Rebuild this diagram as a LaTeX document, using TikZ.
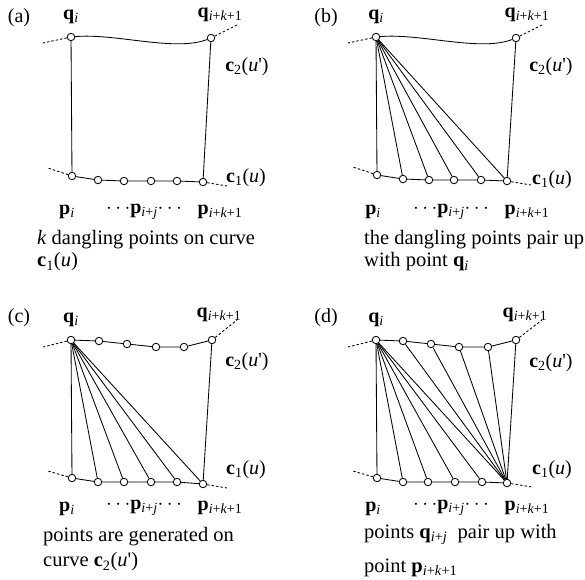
\documentclass[tikz,border=0pt]{standalone}
\usepackage{fontspec}
\setmainfont{Liberation Serif}
\newcommand{\sbs}[1]{\textsubscript{#1}}
\newcommand{\bq}{\textbf{q}}
\newcommand{\bp}{\textbf{p}}
\newcommand{\bc}{\textbf{c}}
\newcommand{\prm}{\textquotesingle}
\begin{document}
\begin{tikzpicture}[x=1pt,y=-1pt,
  pt/.style={circle,draw,fill=white,inner sep=0pt,minimum size=7.5pt,line width=0.85pt},
  edge/.style={line width=0.85pt},
  ext/.style={dash pattern=on 2.5pt off 2pt,line width=0.85pt},
  lab/.style={font=\fontsize{20}{24}\selectfont,inner sep=0pt},
  captxt/.style={font=\fontsize{20.5}{24}\selectfont,inner sep=0pt,anchor=west}]
\useasboundingbox[fill=white] (0,0) rectangle (585,579);

% ================= panel (a) =================
\node[pt] (aq0) at (71,37) {};
\node[pt] (aq5) at (211,38) {};
\foreach \n/\x/\y in {0/72/176,1/98/180,2/124/181,3/151/181,4/177/181,5/203/182}
  \node[pt] (ap\n) at (\x,\y) {};
\coordinate (aL1) at (43,43);
\coordinate (aR1) at (237,25);
\coordinate (aL2) at (48,168);
\coordinate (aR2) at (227,186);
\draw[edge] (aq0) .. controls (115,33) and (175,52) .. (aq5);
\draw[edge] (aq0) -- (ap0);
\draw[edge] (aq5) -- (ap5);
\draw[edge] (ap0) -- (ap1) -- (ap2) -- (ap3) -- (ap4) -- (ap5);
\draw[ext] (aq0) -- (aL1);
\draw[ext] (aq5) -- (aR1);
\draw[ext] (ap0) -- (aL2);
\draw[ext] (ap5) -- (aR2);
\node[lab] (alab) at (19,18) {(a)};
\node[lab] (alq0) at (71,17) {\bq\sbs{\textit{i}}};
\node[lab] (alq5) at (220,15) {\bq\sbs{\textit{i}+\textit{k}+1}};
\node[lab] (alc2) at (247,67) {\bc\sbs{2}(\textit{u}\prm)};
\node[lab] (alc1) at (246,178) {\bc\sbs{1}(\textit{u})};
\node[lab] (alp0) at (67,212) {\bp\sbs{\textit{i}}};
\node[lab] (alpj) at (144,212) {$\cdots$\bp\sbs{\textit{i}+\textit{j}}$\cdots$};
\node[lab] (alp5) at (220,212) {\bp\sbs{\textit{i}+\textit{k}+1}};
\node[captxt] (acap1) at (37,240) {\textit{k} dangling points on curve};
\node[captxt] (acap2) at (37,262) {\bc\sbs{1}(\textit{u})};

% ================= panel (b) =================
\node[pt] (bq0) at (376,37) {};
\node[pt] (bq5) at (516,38) {};
\foreach \n/\x/\y in {0/377/175,1/403/179,2/429/180,3/454/180,4/481/180,5/507/181}
  \node[pt] (bp\n) at (\x,\y) {};
\coordinate (bL1) at (348,43);
\coordinate (bR1) at (542,25);
\coordinate (bL2) at (353,167);
\coordinate (bR2) at (531,185);
\draw[edge] (bq0) .. controls (420,33) and (480,52) .. (bq5);
\draw[edge] (bq0) -- (bp0);
\draw[edge] (bq5) -- (bp5);
\draw[edge] (bp0) -- (bp1) -- (bp2) -- (bp3) -- (bp4) -- (bp5);
\foreach \n in {1,...,5} \draw[edge] (bq0) -- (bp\n);
\draw[ext] (bq0) -- (bL1);
\draw[ext] (bq5) -- (bR1);
\draw[ext] (bp0) -- (bL2);
\draw[ext] (bp5) -- (bR2);
\node[lab] (blab) at (326,18) {(b)};
\node[lab] (blq0) at (376,17) {\bq\sbs{\textit{i}}};
\node[lab] (blq5) at (527,15) {\bq\sbs{\textit{i}+\textit{k}+1}};
\node[lab] (blc2) at (551,67) {\bc\sbs{2}(\textit{u}\prm)};
\node[lab] (blc1) at (552,180) {\bc\sbs{1}(\textit{u})};
\node[lab] (blp0) at (373,212) {\bp\sbs{\textit{i}}};
\node[lab] (blpj) at (451,212) {$\cdots$\bp\sbs{\textit{i}+\textit{j}}$\cdots$};
\node[lab] (blp5) at (527,212) {\bp\sbs{\textit{i}+\textit{k}+1}};
\node[captxt] (bcap1) at (364,240) {the dangling points pair up};
\node[captxt] (bcap2) at (364,262) {with point \bq\sbs{\textit{i}}};

% ================= panel (c) =================
\node[pt] (cq0) at (71,340) {};
\foreach \n/\x/\y in {1/99/341,2/127/344,3/156/347,4/184/347}
  \node[pt] (cq\n) at (\x,\y) {};
\node[pt] (cq5) at (212,340) {};
\foreach \n/\x/\y in {0/72/478,1/98/482,2/124/482,3/151/482,4/177/482,5/203/484}
  \node[pt] (cp\n) at (\x,\y) {};
\coordinate (cL1) at (43,347);
\coordinate (cR1) at (237,320);
\coordinate (cL2) at (48,471);
\coordinate (cR2) at (227,488);
\draw[edge] (cq0) -- (cq1) -- (cq2) -- (cq3) -- (cq4) -- (cq5);
\draw[edge] (cq0) -- (cp0);
\draw[edge] (cq5) -- (cp5);
\draw[edge] (cp0) -- (cp1) -- (cp2) -- (cp3) -- (cp4) -- (cp5);
\foreach \n in {1,...,5} \draw[edge] (cq0) -- (cp\n);
\draw[ext] (cq0) -- (cL1);
\draw[ext] (cq5) -- (cR1);
\draw[ext] (cp0) -- (cL2);
\draw[ext] (cp5) -- (cR2);
\node[lab] (clab) at (19,318) {(c)};
\node[lab] (clq0) at (71,320) {\bq\sbs{\textit{i}}};
\node[lab] (clq5) at (219,315) {\bq\sbs{\textit{i}+\textit{k}+1}};
\node[lab] (clc2) at (247,362) {\bc\sbs{2}(\textit{u}\prm)};
\node[lab] (clc1) at (246,470) {\bc\sbs{1}(\textit{u})};
\node[lab] (clp0) at (67,509) {\bp\sbs{\textit{i}}};
\node[lab] (clpj) at (144,508) {$\cdots$\bp\sbs{\textit{i}+\textit{j}}$\cdots$};
\node[lab] (clp5) at (220,508) {\bp\sbs{\textit{i}+\textit{k}+1}};
\node[captxt] (ccap1) at (43,537) {points are generated on};
\node[captxt] (ccap2) at (43,562) {curve \bc\sbs{2}(\textit{u}\prm)};

% ================= panel (d) =================
\node[pt] (dq0) at (376,340) {};
\foreach \n/\x/\y in {1/403/341,2/431/344,3/459/347,4/488/347}
  \node[pt] (dq\n) at (\x,\y) {};
\node[pt] (dq5) at (516,340) {};
\foreach \n/\x/\y in {0/377/478,1/403/482,2/428/482,3/455/482,4/482/482,5/507/483}
  \node[pt] (dp\n) at (\x,\y) {};
\coordinate (dL1) at (348,347);
\coordinate (dR1) at (542,320);
\coordinate (dL2) at (353,471);
\coordinate (dR2) at (532,487);
\draw[edge] (dq0) -- (dq1) -- (dq2) -- (dq3) -- (dq4) -- (dq5);
\draw[edge] (dq0) -- (dp0);
\draw[edge] (dq5) -- (dp5);
\draw[edge] (dp0) -- (dp1) -- (dp2) -- (dp3) -- (dp4) -- (dp5);
\foreach \n in {1,...,5} \draw[edge] (dq0) -- (dp\n);
\foreach \n in {1,...,4} \draw[edge] (dq\n) -- (dp5);
\draw[ext] (dq0) -- (dL1);
\draw[ext] (dq5) -- (dR1);
\draw[ext] (dp0) -- (dL2);
\draw[ext] (dp5) -- (dR2);
\node[lab] (dlab) at (326,318) {(d)};
\node[lab] (dlq0) at (376,320) {\bq\sbs{\textit{i}}};
\node[lab] (dlq5) at (525,315) {\bq\sbs{\textit{i}+\textit{k}+1}};
\node[lab] (dlc2) at (551,363) {\bc\sbs{2}(\textit{u}\prm)};
\node[lab] (dlc1) at (552,470) {\bc\sbs{1}(\textit{u})};
\node[lab] (dlp0) at (373,509) {\bp\sbs{\textit{i}}};
\node[lab] (dlpj) at (451,508) {$\cdots$\bp\sbs{\textit{i}+\textit{j}}$\cdots$};
\node[lab] (dlp5) at (527,508) {\bp\sbs{\textit{i}+\textit{k}+1}};
\node[captxt,anchor=base west] (dcap1) at (364,538) {points \bq\sbs{\textit{i}+\textit{j}}\ \ pair up with};
\node[captxt,anchor=base west] (dcap2) at (364,572) {point \bp\sbs{\textit{i}+\textit{k}+1}};
\end{tikzpicture}
\end{document}
